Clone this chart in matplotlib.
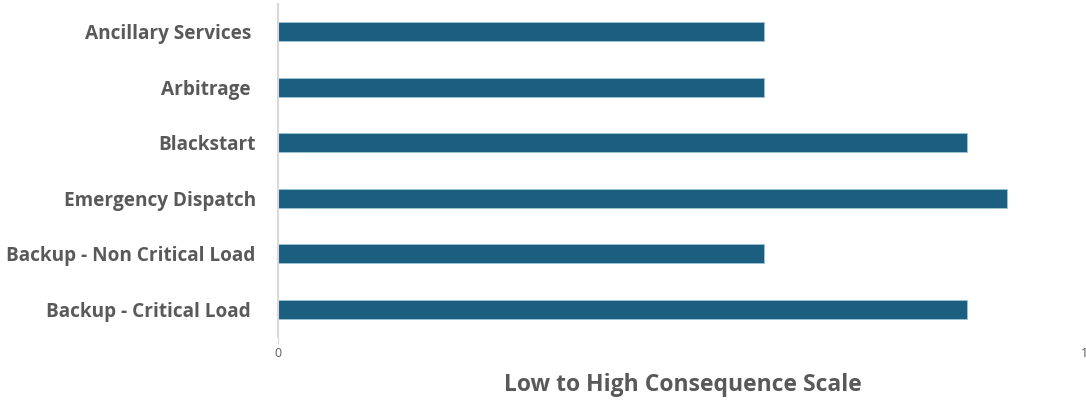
import matplotlib.pyplot as plt

# data (top to bottom)
categories = ["Ancillary Services ", "Arbitrage ", "Blackstart", "Emergency Dispatch",
              "Backup - Non Critical Load", "Backup - Critical Load "]
scores = [6, 6, 8.5, 9, 6, 8.5]
x_ticks = [0, 10]

plt.rcParams['font.family'] = ['Open Sans', 'DejaVu Sans']
plt.rcParams['font.stretch'] = 'condensed'

grey = "#595959"
bar_color = "#1B5E80"

fig = plt.figure(figsize=(10.86, 4.01), dpi=100)
ax = fig.add_axes([0.256, 0.160, 0.746, 0.830])

ypos = list(range(len(categories)))[::-1]
ax.barh(ypos, scores, height=0.34, color=bar_color, edgecolor="#9CC3D8", linewidth=0.6)

ax.set_ylim(-0.5, len(categories) - 0.5)
ax.set_xlim(0, 10)
ax.set_yticks(ypos)
ax.set_yticklabels(categories, fontsize=13.7, fontweight="bold", color=grey)
ax.tick_params(axis="y", length=0, pad=16)
ax.set_xticks(x_ticks)
ax.set_xticklabels([str(t) for t in x_ticks], fontsize=9, color=grey,
                   fontstretch="normal")
ax.tick_params(axis="x", length=5, color="#d9d9d9", pad=2)

for s in ["top", "right", "bottom"]:
    ax.spines[s].set_visible(False)
ax.spines["left"].set_color("#d9d9d9")
ax.spines["left"].set_linewidth(1.5)

ax.set_xlabel("Low to High Consequence Scale", fontsize=16.5, fontweight="bold",
              color=grey, labelpad=10)

fig.savefig("out.png", dpi=100)
